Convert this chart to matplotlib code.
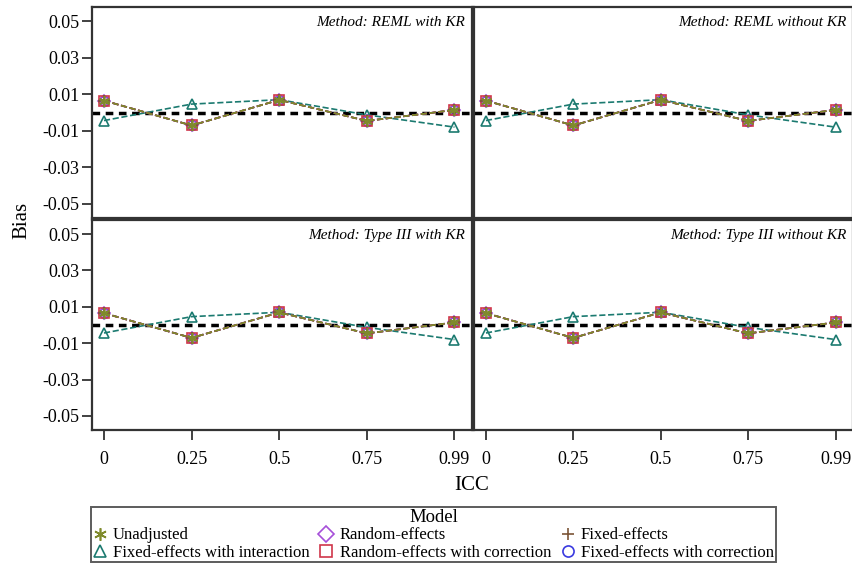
import numpy as np
import matplotlib.pyplot as plt
from matplotlib.lines import Line2D

plt.rcParams['font.family'] = ['Liberation Serif', 'DejaVu Serif']

icc = ['0', '0.25', '0.5', '0.75', '0.99']
methods = ['Method: REML with KR', 'Method: REML without KR',
           'Method: Type III with KR', 'Method: Type III without KR']

# bias per model (same estimates under all four methods)
unadjusted = [0.0065, -0.0071, 0.0069, -0.0046, 0.0014]
random_effects = [0.0065, -0.0071, 0.0069, -0.0046, 0.0014]
fixed_effects = [0.0065, -0.0071, 0.0069, -0.0046, 0.0014]
fe_interaction = [-0.0044, 0.0046, 0.0070, -0.0013, -0.0080]
re_correction = [0.0065, -0.0071, 0.0069, -0.0046, 0.0014]
fe_correction = [0.0065, -0.0071, 0.0069, -0.0046, 0.0014]

models = [
    ('Unadjusted', unadjusted, '#7f8a2c', (6, 2, 0)),
    ('Fixed-effects with interaction', fe_interaction, '#1b7a70', '^'),
    ('Random-effects', random_effects, '#a64fd9', 'D'),
    ('Random-effects with correction', re_correction, '#d0364a', 's'),
    ('Fixed-effects', fixed_effects, '#7b5537', '+'),
    ('Fixed-effects with correction', fe_correction, '#3a3ae0', 'o'),
]
# drawing order so the olive/brown markers end on top
draw_order = [1, 5, 2, 3, 4, 0]

fig = plt.figure(figsize=(8.53, 5.64), dpi=100)
W, H = 853, 564
boxes = [(92, 7, 472, 218), (474, 7, 853, 218),
         (92, 220, 472, 430), (474, 220, 853, 430)]

x = np.arange(len(icc))
for k, (x0, y0, x1, y1) in enumerate(boxes):
    ax = fig.add_axes([x0 / W, 1 - y1 / H, (x1 - x0) / W, (y1 - y0) / H])
    ax.axhline(0, color='black', ls=(0, (2.2, 1.6)), lw=2.5, zorder=1)
    for i in draw_order:
        name, vals, col, mk = models[i]
        ms = 8 if mk in ('+', (6, 2, 0)) else 7
        if mk == 'D':
            ms = 6
        ax.plot(x, vals, ls='--', color=col, lw=1.2, marker=mk, ms=ms,
                mfc='none', mec=col, mew=1.2, zorder=2)
    ax.set_xlim(-0.137, 4.2)
    ax.set_ylim(-0.0577, 0.0577)
    ax.set_yticks([-0.05, -0.03, -0.01, 0.01, 0.03, 0.05])
    ax.set_yticklabels(['-0.05', '-0.03', '-0.01', '0.01', '0.03', '0.05'])
    ax.set_xticks(x)
    ax.set_xticklabels(icc)
    for s in ax.spines.values():
        s.set_linewidth(1.6)
        s.set_color('#333333')
    ax.tick_params(axis='both', length=7, width=1.3, color='#333333',
                   labelsize=13, pad=2)
    ax.tick_params(axis='x', pad=8)
    if k < 2:
        ax.tick_params(axis='x', bottom=False, labelbottom=False)
    if k % 2 == 1:
        ax.tick_params(axis='y', left=False, labelleft=False)
    ax.text(0.982, 0.955, methods[k], transform=ax.transAxes, ha='right',
            va='top', style='italic', fontsize=11)

fig.text(22 / W, 1 - 220 / H, 'Bias', rotation=90, ha='center', va='center',
         fontsize=15)
fig.text(472 / W, 1 - 485 / H, 'ICC', ha='center', va='center', fontsize=15)

handles = [Line2D([], [], ls='none', marker=mk, color=col, mfc='none', mec=col,
                  mew=1.2, ms=9 if mk in ('+', (6, 2, 0)) else 8)
           for name, vals, col, mk in models]
labels = [m[0] for m in models]
leg = fig.legend(handles, labels, ncol=3, loc='upper center',
                 bbox_to_anchor=(433.5 / W, 1 - 499 / H), title='Model',
                 fontsize=12, title_fontsize=13.5, frameon=True, fancybox=False,
                 edgecolor='#333333', handlelength=0.8, handletextpad=0.4,
                 columnspacing=0.6, labelspacing=0.08, borderpad=0.1)
leg.get_frame().set_linewidth(1.4)

fig.savefig('out.png', dpi=100)
